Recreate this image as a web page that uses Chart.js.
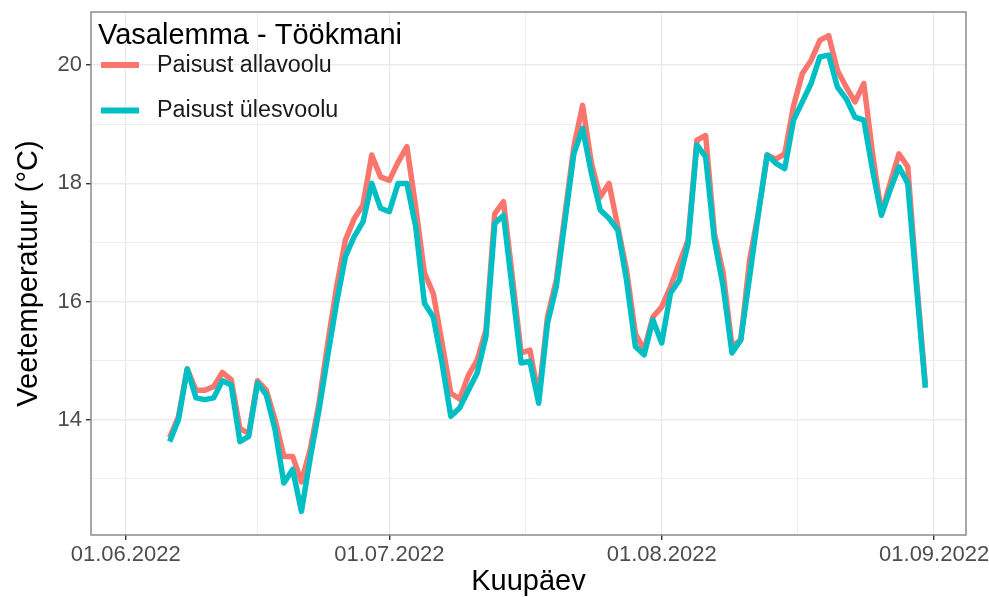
<!DOCTYPE html>
<html><head><meta charset="utf-8">
<script src="https://cdn.jsdelivr.net/npm/chart.js@4"></script>
<style>html,body{margin:0;padding:0;background:#fff;overflow:hidden}</style>
</head><body>
<canvas id="c" width="989" height="597"></canvas>
<script>
const dates = [
 '2022-06-06','2022-06-07','2022-06-08','2022-06-09','2022-06-10','2022-06-11','2022-06-12','2022-06-13','2022-06-14','2022-06-15',
 '2022-06-16','2022-06-17','2022-06-18','2022-06-19','2022-06-20','2022-06-21','2022-06-22','2022-06-23','2022-06-24','2022-06-25',
 '2022-06-26','2022-06-27','2022-06-28','2022-06-29','2022-06-30',
 '2022-07-01','2022-07-02','2022-07-03','2022-07-04','2022-07-05','2022-07-06','2022-07-07','2022-07-08','2022-07-09','2022-07-10',
 '2022-07-11','2022-07-12','2022-07-13','2022-07-14','2022-07-15','2022-07-16','2022-07-17','2022-07-18','2022-07-19','2022-07-20',
 '2022-07-21','2022-07-22','2022-07-23','2022-07-24','2022-07-25','2022-07-26','2022-07-27','2022-07-28','2022-07-29','2022-07-30','2022-07-31',
 '2022-08-01','2022-08-02','2022-08-03','2022-08-04','2022-08-05','2022-08-06','2022-08-07','2022-08-08','2022-08-09','2022-08-10',
 '2022-08-11','2022-08-12','2022-08-13','2022-08-14','2022-08-15','2022-08-16','2022-08-17','2022-08-18','2022-08-19','2022-08-20',
 '2022-08-21','2022-08-22','2022-08-23','2022-08-24','2022-08-25','2022-08-26','2022-08-27','2022-08-28','2022-08-29','2022-08-30','2022-08-31'
];
const allavoolu = [
 13.7,14.05,14.86,14.5,14.5,14.56,14.8,14.68,13.85,13.77,14.66,14.5,14.0,13.38,13.38,12.95,13.5,14.28,15.3,16.25,17.04,17.4,17.63,18.48,18.11,
 18.05,18.36,18.62,17.6,16.48,16.14,15.3,14.45,14.35,14.75,15.01,15.52,17.49,17.69,16.42,15.13,15.18,14.39,15.74,16.36,17.49,18.62,19.32,18.34,17.77,18.0,17.27,16.53,15.46,15.18,15.74,
 15.91,16.25,16.65,17.04,18.73,18.81,17.15,16.48,15.24,15.35,16.7,17.5,18.48,18.41,18.5,19.31,19.86,20.08,20.42,20.5,19.91,19.63,19.38,19.69,18.5,17.49,18.0,18.5,18.28,16.36,14.6
];
const ulesvoolu = [
 13.63,14.0,14.86,14.37,14.34,14.37,14.66,14.59,13.63,13.72,14.62,14.42,13.83,12.93,13.16,12.45,13.35,14.17,15.09,15.98,16.76,17.1,17.35,18.0,17.58,
 17.52,18.0,18.0,17.27,15.97,15.74,14.96,14.06,14.2,14.5,14.79,15.41,17.32,17.46,16.21,14.96,14.99,14.28,15.63,16.25,17.38,18.5,18.93,18.17,17.55,17.41,17.21,16.36,15.24,15.1,15.69,
 15.3,16.14,16.36,16.98,18.65,18.45,17.04,16.25,15.13,15.35,16.42,17.49,18.48,18.34,18.25,19.07,19.38,19.69,20.14,20.17,19.63,19.43,19.12,19.07,18.22,17.46,17.89,18.28,18.0,16.25,14.54
];
const seriesNames = ['Paisust allavoolu', 'Paisust ülesvoolu'];
const seriesColors = ['#F8766D', '#00BFC4'];
const legendTitle = 'Vasalemma - Töökmani';
const xTickDates = ['2022-06-01', '2022-07-01', '2022-08-01', '2022-09-01'];
const xTickLabels = ['01.06.2022', '01.07.2022', '01.08.2022', '01.09.2022'];
const yMajorTicks = [14, 16, 18, 20];
const yMinorTicks = [13, 15, 17, 19];
const xTitle = 'Kuupäev';
const yTitle = 'Veetemperatuur (°C)';

const FONT = '"Liberation Sans", Arial, Helvetica, sans-serif';
const DAY0 = Date.parse('2022-06-01');
const dayOf = s => (Date.parse(s) - DAY0) / 86400000;

const xMajor = xTickDates.map(dayOf);
const xMinor = [];
for (let i = 0; i < xMajor.length - 1; i++) xMinor.push((xMajor[i] + xMajor[i + 1]) / 2);
const xLabelMap = {};
xMajor.forEach((d, i) => xLabelMap[d] = xTickLabels[i]);

const toPts = arr => arr.map((v, i) => ({ x: dayOf(dates[i]), y: v }));

Chart.defaults.font.family = FONT;

const framePlugin = {
  id: 'frame',
  afterDatasetsDraw(chart) {
    const a = chart.chartArea, ctx = chart.ctx;
    ctx.save();
    ctx.strokeStyle = '#8a8a8a';
    ctx.lineWidth = 1.5;
    ctx.strokeRect(a.left, a.top, a.right - a.left, a.bottom - a.top);
    ctx.restore();
  }
};

const legendPlugin = {
  id: 'insideLegend',
  afterDraw(chart) {
    const a = chart.chartArea, ctx = chart.ctx;
    const x0 = a.left + 10;
    ctx.save();
    ctx.fillStyle = '#000';
    ctx.font = '29px ' + FONT;
    ctx.textBaseline = 'alphabetic';
    ctx.textAlign = 'left';
    ctx.fillText(legendTitle, a.left + 7, a.top + 32);
    ctx.font = '23.3px ' + FONT;
    ctx.textBaseline = 'middle';
    const rows = [a.top + 53, a.top + 98.5];
    seriesNames.forEach((name, i) => {
      ctx.strokeStyle = seriesColors[i];
      ctx.lineWidth = 6;
      ctx.lineCap = 'butt';
      ctx.beginPath();
      ctx.moveTo(x0, rows[i]);
      ctx.lineTo(x0 + 38, rows[i]);
      ctx.stroke();
      ctx.fillStyle = '#1a1a1a';
      ctx.fillText(name, x0 + 56, rows[i] + 0.5);
    });
    ctx.restore();
  }
};

const isMajorX = v => xMajor.includes(v);
const isMajorY = v => yMajorTicks.includes(v);

new Chart(document.getElementById('c'), {
  type: 'line',
  data: {
    datasets: [
      { label: seriesNames[0], data: toPts(allavoolu), borderColor: seriesColors[0], backgroundColor: seriesColors[0],
        borderWidth: 5.5, pointRadius: 0, tension: 0, borderJoinStyle: 'round', borderCapStyle: 'butt', order: 1 },
      { label: seriesNames[1], data: toPts(ulesvoolu), borderColor: seriesColors[1], backgroundColor: seriesColors[1],
        borderWidth: 5.5, pointRadius: 0, tension: 0, borderJoinStyle: 'round', borderCapStyle: 'butt', order: 0 }
    ]
  },
  options: {
    responsive: false,
    animation: false,
    devicePixelRatio: 1,
    layout: { padding: { top: 12, right: 23, left: 0, bottom: 0 } },
    plugins: { legend: { display: false }, tooltip: { enabled: false } },
    scales: {
      x: {
        type: 'linear',
        min: -3.95, max: 95.63,
        afterBuildTicks: s => { s.ticks = xMajor.concat(xMinor).sort((a, b) => a - b).map(v => ({ value: v })); },
        ticks: {
          autoSkip: false, maxRotation: 0, minRotation: 0,
          callback: v => (xLabelMap[v] !== undefined ? xLabelMap[v] : ''),
          font: { size: 22 }, color: '#4d4d4d', padding: 2
        },
        grid: {
          color: '#ebebeb',
          lineWidth: c => (c.tick && isMajorX(c.tick.value) ? 1.4 : 0.9),
          tickLength: 5,
          tickWidth: 1.4,
          tickColor: c => (c.tick && isMajorX(c.tick.value) ? '#333333' : 'rgba(0,0,0,0)')
        },
        border: { display: false },
        title: { display: true, text: xTitle, color: '#000', font: { size: 29 }, padding: { top: 0, bottom: -2 } },
        afterFit: s => { s.height = 62; s.paddingLeft = 0; s.paddingRight = 0; }
      },
      y: {
        type: 'linear',
        min: 12.05, max: 20.9,
        afterBuildTicks: s => { s.ticks = yMinorTicks.concat(yMajorTicks).sort((a, b) => a - b).map(v => ({ value: v })); },
        ticks: {
          autoSkip: false,
          callback: v => (isMajorY(v) ? String(v) : ''),
          font: { size: 22 }, color: '#4d4d4d', padding: 4
        },
        grid: {
          color: '#ebebeb',
          lineWidth: c => (c.tick && isMajorY(c.tick.value) ? 1.4 : 0.9),
          tickLength: 5,
          tickWidth: 1.4,
          tickColor: c => (c.tick && isMajorY(c.tick.value) ? '#333333' : 'rgba(0,0,0,0)')
        },
        border: { display: false },
        title: { display: true, text: yTitle, color: '#000', font: { size: 29 }, padding: { top: 12, bottom: 0 } },
        afterFit: s => { s.width = 91; s.paddingTop = 0; s.paddingBottom = 0; }
      }
    }
  },
  plugins: [framePlugin, legendPlugin]
});
</script>
</body></html>
